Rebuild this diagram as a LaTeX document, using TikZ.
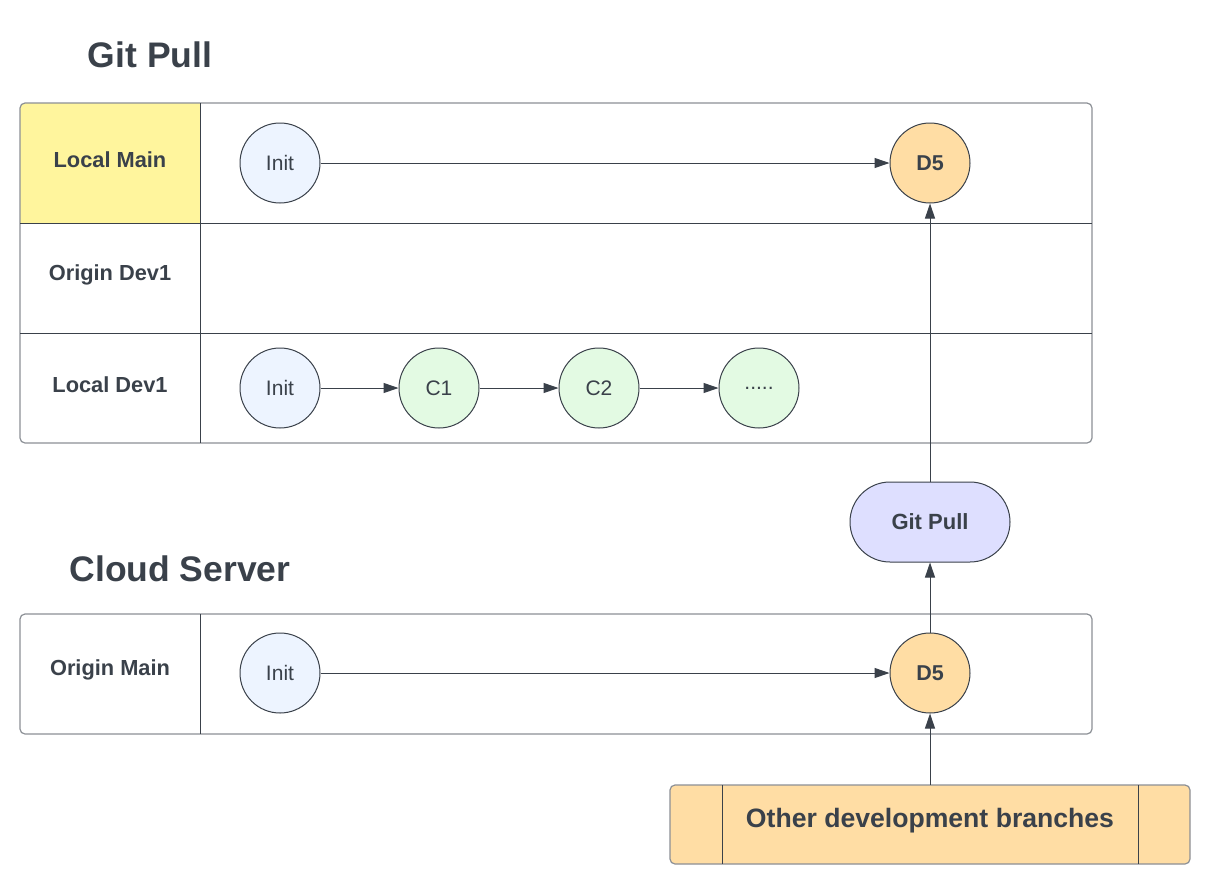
\documentclass[tikz,border=0pt]{standalone}
\usepackage{fontspec}
\setmainfont{Liberation Sans}
\usetikzlibrary{arrows.meta,positioning}
\definecolor{ink}{RGB}{58,65,74}
\definecolor{frame}{RGB}{140,144,150}
\definecolor{lmain}{RGB}{255,245,157}
\definecolor{initc}{RGB}{237,244,255}
\definecolor{commitc}{RGB}{227,250,227}
\definecolor{dfive}{RGB}{255,221,164}
\definecolor{pullc}{RGB}{222,223,255}
\begin{document}
\begin{tikzpicture}[x=1pt,y=-1pt,
  every node/.style={text=ink},
  commit/.style={circle,draw=ink,line width=1pt,minimum size=80pt,inner sep=0pt,font=\fontsize{21}{24}\selectfont},
  initnode/.style={commit,fill=initc},
  cnode/.style={commit,fill=commitc},
  dnode/.style={commit,fill=dfive,font=\fontsize{21.5}{24}\selectfont\bfseries},
  lanelabel/.style={font=\fontsize{21.8}{24}\selectfont\bfseries},
  title/.style={font=\fontsize{35.5}{40}\selectfont\bfseries},
  conn/.style={draw=ink,line width=1pt,-{Triangle[length=15pt,width=10pt]}},
  divider/.style={draw=ink,line width=1pt},
  outer/.style={draw=frame,line width=1.2pt,rounded corners=5pt}]
\useasboundingbox (0,0) rectangle (1210,884);
\fill[white] (0,0) rectangle (1210,884);

% Titles
\node[title] (t1) at (150,55) {Git Pull};
\node[title] (t2) at (180,569) {Cloud Server};

% Top table
\fill[lmain] (20,223) [rounded corners=5pt]-- (20,103) [sharp corners]-- (200,103) -- (200,223) -- cycle;
\draw[outer] (20,103) rectangle (1092,443);
\draw[divider] (20,223) -- (1092,223);
\draw[divider] (20,333) -- (1092,333);
\draw[divider] (200,103) -- (200,443);
\node[lanelabel] (l1) at (110,160) {Local Main};
\node[lanelabel] (l2) at (110,275) {Origin Dev1};
\node[lanelabel] (l3) at (110,385) {Local Dev1};

% Bottom table
\draw[outer] (20,614) rectangle (1092,734);
\draw[divider] (200,614) -- (200,734);
\node[lanelabel] (l4) at (110,670) {Origin Main};

% Other branches box
\draw[draw=frame,fill=dfive,line width=1.2pt,rounded corners=5pt] (670,785) rectangle (1190,864);
\draw[divider] (722,785) -- (722,864);
\draw[divider] (1138,785) -- (1138,864);
\node[font=\fontsize{26.6}{30}\selectfont\bfseries] (other) at (930,821) {Other development branches};
\coordinate (othertop) at (930,785);

% Commits
\node[initnode] (i1) at (280,163) {Init};
\node[dnode] (d1) at (930,163) {D5};
\node[initnode] (i2) at (280,388) {Init};
\node[cnode] (c1) at (439,388) {C1};
\node[cnode] (c2) at (599,388) {C2};
\node[cnode] (c3) at (759,388) {.....};
\node[initnode] (i3) at (280,673) {Init};
\node[dnode] (d2) at (930,673) {D5};

% Git Pull
\node[draw=ink,fill=pullc,line width=1pt,rounded corners=40pt,minimum width=160pt,minimum height=80pt,inner sep=0pt,font=\fontsize{22}{24}\selectfont\bfseries] (pull) at (930,522) {Git Pull};

% Connectors
\draw[conn] (i1) -- (d1);
\draw[conn] (i2) -- (c1);
\draw[conn] (c1) -- (c2);
\draw[conn] (c2) -- (c3);
\draw[conn] (i3) -- (d2);
\draw[conn] (othertop) -- (d2);
\draw[conn] (d2) -- (pull);
\draw[conn] (pull) -- (d1);
\end{tikzpicture}
\end{document}
